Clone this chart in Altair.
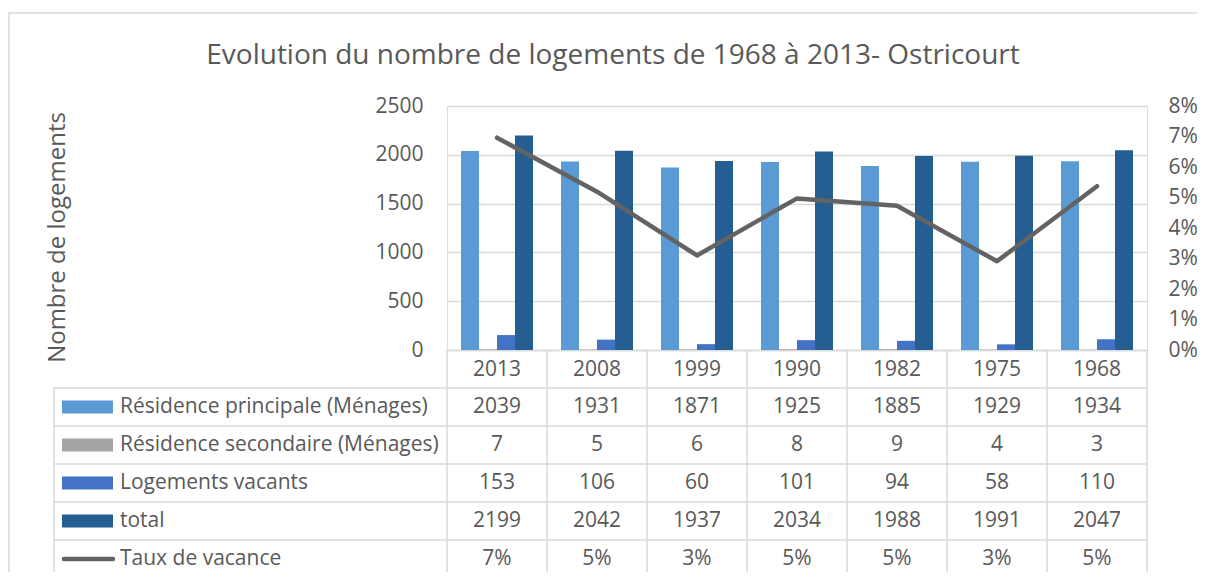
import altair as alt
import pandas as pd

# ---- data ----
years = ["2013", "2008", "1999", "1990", "1982", "1975", "1968"]
principale = [2039, 1931, 1871, 1925, 1885, 1929, 1934]
secondaire = [7, 5, 6, 8, 9, 4, 3]
vacants = [153, 106, 60, 101, 94, 58, 110]
total = [2199, 2042, 1937, 2034, 1988, 1991, 2047]
taux = [0.0696, 0.0519, 0.0310, 0.0497, 0.0473, 0.0291, 0.0537]
taux_labels = ["7%", "5%", "3%", "5%", "5%", "3%", "5%"]

bar_series = ["Résidence principale (Ménages)", "Résidence secondaire (Ménages)",
              "Logements vacants", "total"]
line_series = "Taux de vacance"
all_series = bar_series + [line_series]
colors = ["#5B9BD5", "#A5A5A5", "#4472C4", "#255E91", "#636363"]

title_text = "Evolution du nombre de logements de 1968 à 2013- Ostricourt"

FONT = "Open Sans"
GREY = "#595959"
GRID = "#d9d9d9"
FS = 21

# ---- tables ----
series_values = [principale, secondaire, vacants, total]
bars_df = pd.DataFrame([
    {"year": y, "series": s, "value": v}
    for s, vals in zip(bar_series, series_values)
    for y, v in zip(years, vals)
])
line_df = pd.DataFrame({"year": years, "taux": taux, "series": line_series})

table_rows = []
for i, (s, vals) in enumerate(zip(bar_series, series_values)):
    for y, v in zip(years, vals):
        table_rows.append({"year": y, "mid": i + 1.5, "label": str(v)})
for y, t in zip(years, taux_labels):
    table_rows.append({"year": y, "mid": 5.5, "label": t})
table_df = pd.DataFrame(table_rows)

rowlab_df = pd.DataFrame({"series": all_series, "mid": [i + 1.5 for i in range(5)]})
hlines_df = pd.DataFrame({"r": [1, 2, 3, 4, 5, 6]})
vlines_df = pd.DataFrame({"year": years})
one_df = pd.DataFrame({"title": [title_text]})

# ---- scales ----
x_scale = alt.Scale(domain=years, paddingInner=0, paddingOuter=0)
color_scale = alt.Scale(domain=all_series, range=colors)
tbl_y = alt.Scale(domain=[0, 6], range=[244, 472], nice=False, zero=False)

x_axis = alt.Axis(title=None, labelFont=FONT, labelFontSize=FS, labelColor=GREY,
                  labelAngle=0, labelPadding=19, labelBaseline="middle",
                  ticks=False, tickSize=0, domain=True, domainColor=GRID,
                  domainWidth=1.5, grid=False)


def X(**kw):
    return alt.X("year:N", sort=years, scale=x_scale, axis=x_axis, **kw)


frame = alt.Chart(one_df).mark_rect(fillOpacity=0, stroke=GRID, strokeWidth=1.5).encode(
    x=alt.value(-438), x2=alt.value(760), y=alt.value(-93), y2=alt.value(480)
)

title = alt.Chart(one_df).mark_text(font=FONT, fontSize=28, color=GREY, align="center",
                                     baseline="alphabetic").encode(
    x=alt.value(166), y=alt.value(-42), text="title:N"
)

bars = alt.Chart(bars_df).mark_bar().encode(
    x=X(),
    xOffset=alt.XOffset("series:N", sort=bar_series,
                        scale=alt.Scale(domain=bar_series, paddingInner=0, paddingOuter=0.778)),
    y=alt.Y("value:Q", scale=alt.Scale(domain=[0, 2500], nice=False),
            axis=alt.Axis(values=[0, 500, 1000, 1500, 2000, 2500], format="d",
                          title="Nombre de logements",
                          titleFont=FONT, titleFontSize=24, titleColor=GREY, titleFontWeight="normal",
                          titleX=-390, titleY=131, titleBaseline="middle", titleAngle=-90,
                          labelFont=FONT, labelFontSize=FS, labelColor=GREY, labelPadding=24,
                          ticks=False, tickSize=0, domain=False, grid=True,
                          gridColor=GRID, gridWidth=1.5)),
    color=alt.Color("series:N", scale=color_scale, legend=None),
)

line = alt.Chart(line_df).mark_line(strokeWidth=4.5, strokeCap="round", strokeJoin="round").encode(
    x=X(),
    y=alt.Y("taux:Q", scale=alt.Scale(domain=[0, 0.08], nice=False),
            axis=alt.Axis(orient="right", values=[0, 0.01, 0.02, 0.03, 0.04, 0.05, 0.06, 0.07, 0.08],
                          format=".0%", title=None, labelFont=FONT, labelFontSize=FS,
                          labelColor=GREY, labelPadding=21, ticks=False, tickSize=0,
                          domain=False, grid=False)),
    color=alt.Color("series:N", scale=color_scale, legend=None),
)

hlines = alt.Chart(hlines_df).mark_rule(color=GRID, strokeWidth=1.5).encode(
    y=alt.Y("r:Q", scale=tbl_y, axis=None),
    x=alt.value(-393), x2=alt.value(700),
)
vlines = alt.Chart(vlines_df).mark_rule(color=GRID, strokeWidth=1.5).encode(
    x=X(bandPosition=0),
    y=alt.value(244), y2=alt.value(472),
)
edge_right = alt.Chart(one_df).mark_rule(color=GRID, strokeWidth=1.5).encode(
    x=alt.value(700), y=alt.value(244), y2=alt.value(472)
)
edge_left = alt.Chart(one_df).mark_rule(color=GRID, strokeWidth=1.5).encode(
    x=alt.value(-393), y=alt.value(281), y2=alt.value(472)
)

table_text = alt.Chart(table_df).mark_text(font=FONT, fontSize=FS, color=GREY, baseline="middle").encode(
    x=X(),
    y=alt.Y("mid:Q", scale=tbl_y, axis=None),
    text="label:N",
)

row_labels = alt.Chart(rowlab_df).mark_text(font=FONT, fontSize=FS, color=GREY, baseline="middle",
                                            align="left").encode(
    x=alt.value(-327),
    y=alt.Y("mid:Q", scale=tbl_y, axis=None),
    text="series:N",
)

keys = alt.Chart(rowlab_df[rowlab_df.series != line_series]).mark_tick(
    orient="horizontal", size=51, thickness=13, opacity=1).encode(
    x=alt.value(-359.5),
    y=alt.Y("mid:Q", scale=tbl_y, axis=None),
    color=alt.Color("series:N", scale=color_scale, legend=None),
)

line_key = alt.Chart(rowlab_df[rowlab_df.series == line_series]).mark_rule(
    strokeWidth=4.5, strokeCap="round").encode(
    x=alt.value(-383), x2=alt.value(-334),
    y=alt.Y("mid:Q", scale=tbl_y, axis=None),
    color=alt.Color("series:N", scale=color_scale, legend=None),
)

chart = alt.layer(
    frame, title, bars, line, hlines, vlines, edge_right, edge_left, table_text, row_labels, keys, line_key
).resolve_scale(
    y="independent"
).properties(
    width=700, height=244,
    padding={"left": 439, "top": 98, "right": 50, "bottom": 222},
    autosize=alt.AutoSizeParams(type="none"),
).configure_view(stroke=None).configure(font=FONT)

chart.save("out.html", embed_options={"renderer": "svg", "actions": False})
